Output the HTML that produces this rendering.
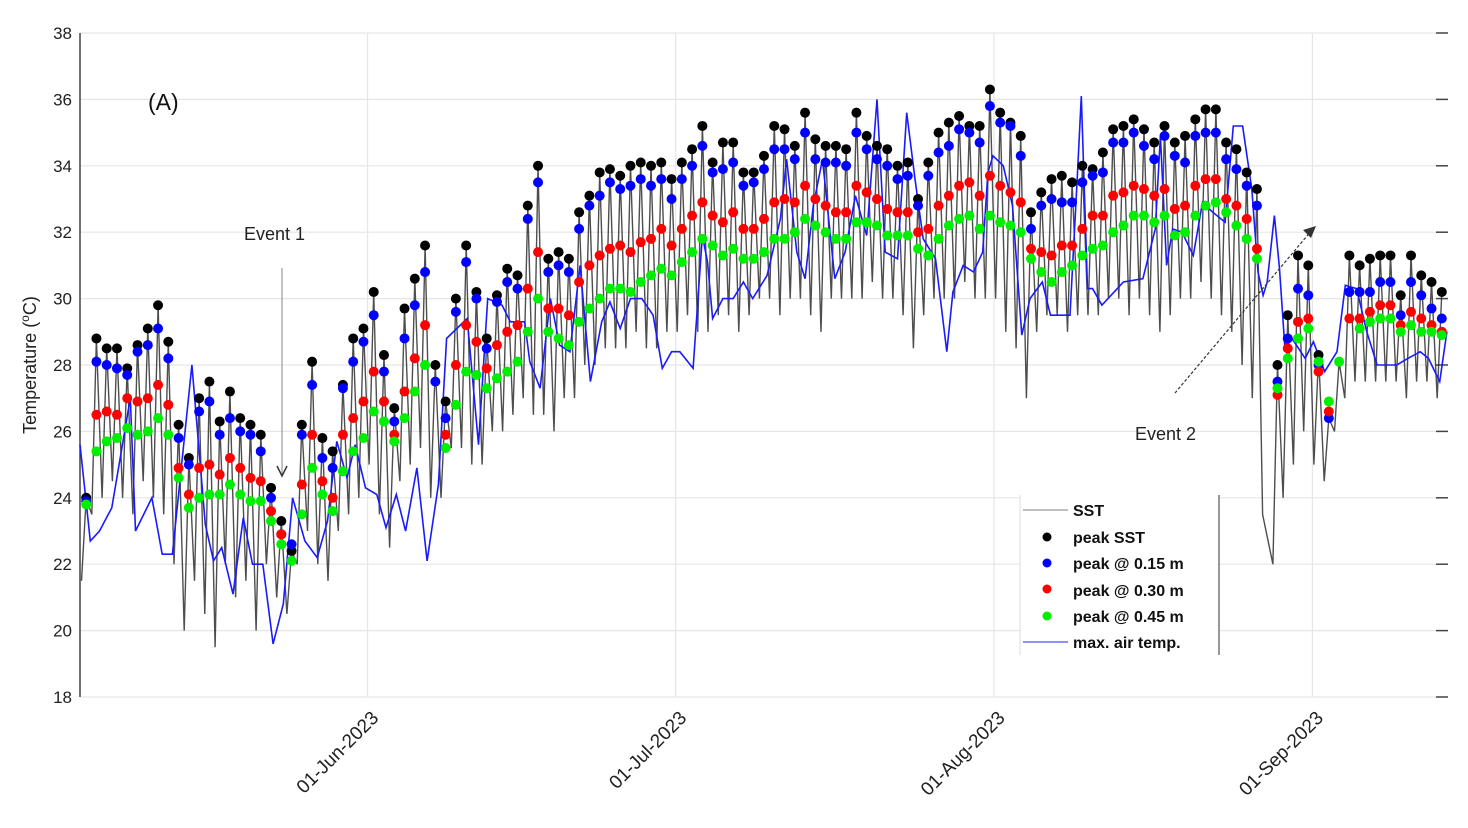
<!DOCTYPE html>
<html><head><meta charset="utf-8"><title>Temperature chart</title>
<style>
html,body{margin:0;padding:0;background:#fff;width:1468px;height:828px;overflow:hidden}
svg{display:block;font-family:"Liberation Sans",sans-serif}
</style></head>
<body>
<svg id="chart" width="1468" height="828" viewBox="0 0 1468 828" xmlns="http://www.w3.org/2000/svg">
<g id="grid"></g>
<g id="axes"></g>
<g id="sst"></g>
<g id="air"></g>
<g id="dots"></g>
<text x="148" y="110" font-size="23" fill="#111">(A)</text>
<text x="244" y="240" font-size="18" fill="#222">Event 1</text>
<line x1="282" y1="268" x2="282" y2="474" stroke="#999" stroke-width="1.2"/>
<path d="M277 466 L282 476 L287 466" fill="none" stroke="#333" stroke-width="1.5"/>
<text x="1135" y="440" font-size="18" fill="#222">Event 2</text>
<line x1="1175" y1="393" x2="1312" y2="230" stroke="#333" stroke-width="1.2" stroke-dasharray="3,2"/>
<path d="M1303 230 L1316 226 L1311 238 Z" fill="#333"/>
<g id="legend">
<rect x="1020" y="495" width="199" height="160" fill="#fff"/>
<line x1="1020" y1="495" x2="1020" y2="655" stroke="#ddd"/>
<line x1="1219" y1="495" x2="1219" y2="655" stroke="#777" stroke-width="1.5"/>
<g font-size="16" font-weight="bold" fill="#111">
<line x1="1023" y1="510" x2="1068" y2="510" stroke="#aaa" stroke-width="1.5"/>
<text x="1073" y="516">SST</text>
<circle cx="1047" cy="537" r="4.5" fill="#000"/>
<text x="1073" y="543">peak SST</text>
<circle cx="1047" cy="563" r="4.5" fill="#0000ff"/>
<text x="1073" y="569">peak @ 0.15 m</text>
<circle cx="1047" cy="589" r="4.5" fill="#ff0000"/>
<text x="1073" y="596">peak @ 0.30 m</text>
<circle cx="1047" cy="616" r="4.5" fill="#00ee00"/>
<text x="1073" y="622">peak @ 0.45 m</text>
<line x1="1023" y1="642" x2="1068" y2="642" stroke="#6b6bff" stroke-width="1.5"/>
<text x="1073" y="648">max. air temp.</text>
</g></g>
</svg>
<script>
const yTicks=[18,20,22,24,26,28,30,32,34,36,38];
const dateLabels=["01-Jun-2023","01-Jul-2023","01-Aug-2023","01-Sep-2023"];
const dateDays=[28,58,89,120];
const peakSST=[24.0,28.8,28.5,28.5,27.9,28.6,29.1,29.8,28.7,26.2,25.2,27.0,27.5,26.3,27.2,26.4,26.2,25.9,24.3,23.3,22.4,26.2,28.1,25.8,25.4,27.4,28.8,29.1,30.2,28.3,26.7,29.7,30.6,31.6,28.0,26.9,30.0,31.6,30.2,28.8,30.1,30.9,30.7,32.8,34.0,31.2,31.4,31.2,32.6,33.1,33.8,33.9,33.7,34.0,34.1,34.0,34.1,33.6,34.1,34.5,35.2,34.1,34.7,34.7,33.8,33.8,34.3,35.2,35.1,34.6,35.6,34.8,34.6,34.6,34.5,35.6,34.9,34.6,34.5,34.0,34.1,33.0,34.1,35.0,35.3,35.5,35.2,35.2,36.3,35.6,35.3,34.9,32.6,33.2,33.6,33.7,33.5,34.0,33.9,34.4,35.1,35.2,35.4,35.1,34.7,35.2,34.7,34.9,35.4,35.7,35.7,34.7,34.5,33.8,33.3,null,28.0,29.5,31.3,31.0,28.3,null,null,31.3,31.0,31.2,31.3,31.3,30.1,31.3,30.7,30.5,30.2];
const peak015=[23.9,28.1,28.0,27.9,27.7,28.4,28.6,29.1,28.2,25.8,25.0,26.6,26.9,25.9,26.4,26.0,25.9,25.4,24.0,22.9,22.6,25.9,27.4,25.2,24.9,27.3,28.1,28.7,29.5,27.8,26.3,28.8,29.8,30.8,27.5,26.4,29.6,31.1,30.0,28.5,29.9,30.5,30.3,32.4,33.5,30.8,31.0,30.8,32.1,32.8,33.1,33.5,33.3,33.4,33.6,33.4,33.6,33.0,33.6,34.0,34.6,33.8,33.9,34.1,33.4,33.5,33.9,34.5,34.5,34.2,35.0,34.2,34.1,34.1,34.0,35.0,34.5,34.2,34.0,33.6,33.7,32.8,33.7,34.4,34.6,35.1,35.0,34.7,35.8,35.3,35.2,34.3,32.1,32.8,33.0,32.9,32.9,33.5,33.7,33.8,34.7,34.7,35.0,34.6,34.2,34.9,34.3,34.1,34.9,35.0,35.0,34.2,33.9,33.4,32.8,null,27.5,28.8,30.3,30.1,28.0,26.4,null,30.2,30.2,30.2,30.5,30.5,29.5,30.5,30.1,29.7,29.4];
const peak030=[null,26.5,26.6,26.5,27.0,26.9,27.0,27.4,26.8,24.9,24.1,24.9,25.0,24.7,25.2,24.9,24.6,24.5,23.6,22.9,null,24.4,25.9,24.5,24.0,25.9,26.4,26.9,27.8,26.9,25.9,27.2,28.2,29.2,null,25.9,28.0,29.2,28.7,27.9,28.6,29.0,29.2,30.3,31.4,29.7,29.7,29.5,30.5,31.0,31.3,31.5,31.6,31.4,31.7,31.8,32.1,31.6,32.1,32.5,32.9,32.5,32.3,32.6,32.1,32.1,32.4,32.9,33.0,32.9,33.4,33.0,32.8,32.6,32.6,33.4,33.2,33.0,32.7,32.6,32.6,32.0,32.1,32.8,33.1,33.4,33.5,33.1,33.7,33.4,33.2,32.9,31.5,31.4,31.3,31.6,31.6,32.1,32.5,32.5,33.1,33.2,33.4,33.3,33.1,33.3,32.7,32.8,33.4,33.6,33.6,33.0,32.8,32.4,31.5,null,27.1,28.5,29.3,29.4,27.8,26.6,null,29.4,29.4,29.6,29.8,29.8,29.2,29.6,29.4,29.2,29.0];
const peak045=[23.8,25.4,25.7,25.8,26.1,25.9,26.0,26.4,25.9,24.6,23.7,24.0,24.1,24.1,24.4,24.1,23.9,23.9,23.3,22.6,22.1,23.5,24.9,24.1,23.6,24.8,25.4,25.8,26.6,26.3,25.7,26.4,27.2,28.0,null,25.5,26.8,27.8,27.7,27.3,27.6,27.8,28.1,29.0,30.0,29.0,28.8,28.6,29.3,29.7,30.0,30.3,30.3,30.2,30.5,30.7,30.9,30.7,31.1,31.4,31.8,31.6,31.3,31.5,31.2,31.2,31.4,31.8,31.8,32.0,32.4,32.2,32.0,31.8,31.8,32.3,32.3,32.2,31.9,31.9,31.9,31.5,31.3,31.8,32.2,32.4,32.5,32.1,32.5,32.3,32.2,32.0,31.2,30.8,30.5,30.8,31.0,31.3,31.5,31.6,32.0,32.2,32.5,32.5,32.3,32.5,31.9,32.0,32.5,32.8,32.9,32.6,32.2,31.8,31.2,null,27.3,28.2,28.8,29.1,28.1,26.9,28.1,null,29.1,29.3,29.4,29.4,29.0,29.2,29.0,29.0,28.9];
const minSST=[21.5,23.5,24,24.5,24,23.5,24.5,24,23.5,22,20,21.5,20.5,19.5,22,21,21.5,20,22,21,20.5,22,23,22,21.5,23,23.5,24,25,23.5,22.5,24.5,25,25.5,24,24,25.5,25.5,25,25,26,26,26.5,27,26.5,26.5,26,27,27,28,28,28.5,28.5,28.5,29,28.5,28.5,29,29,29.5,29,29,29.5,29.5,29,29.5,30,30,29.5,30,30,29.5,29,30,30,30,30,30.5,30,30,29.5,28.5,29.5,30,30,30,30.5,30,30,30,29,28.5,27,29,29.5,29.5,29,29.5,29.5,29.5,30,30,29.5,30,29.5,29,29.5,30,30,30.5,30,29.5,29,28,27,23.5,22,24,25,26,25,24.5,26,27,27.5,27.5,27.5,27.5,27.5,27,27.5,27.5,27];
const airDays=[0,1.0,1.9,3.1,4.9,5.4,7.0,8.0,9.0,10.9,12.2,13.0,13.8,14.9,15.9,16.8,17.8,18.8,19.8,20.7,21.9,23.1,24.1,25.0,26.0,26.8,27.8,28.9,29.8,30.8,31.7,32.8,33.8,34.9,35.7,37.7,38.8,39.7,41.1,41.9,43.3,43.8,44.8,45.8,46.7,47.7,48.7,49.7,50.8,51.6,52.6,53.6,54.7,55.8,56.7,57.6,58.4,59.7,60.6,61.1,61.6,62.6,63.6,64.6,65.5,66.9,68.2,68.8,69.8,70.6,71.4,72.3,73.5,74.5,75.5,76.6,77.6,78.4,79.6,80.5,81.3,82.1,83.3,84.4,85.0,86.0,87.0,87.9,88.4,88.9,89.9,90.8,91.7,92.5,93.7,94.5,96.4,97.1,97.5,98.1,98.6,99.5,101.6,103.5,104.7,105.2,105.8,106.4,107.3,108.4,109.3,110.3,111.5,112.3,113.2,114.1,114.7,115.2,115.6,116.3,116.8,117.3,118.0,119.3,120.1,121.2,122.4,123.2,124.3,125.3,126.3,128.2,129.3,130.5,131.3,132.4,133.1];
const airVals=[25.6,22.7,23.0,23.7,27.0,23.0,24.0,22.3,22.3,28.0,23.2,22.1,22.5,21.1,23.4,22.0,22.0,19.6,20.8,24.0,22.7,22.2,23.3,25.7,24.6,25.6,24.3,24.1,23.1,24.1,23.0,24.9,22.1,24.4,28.8,29.4,25.6,30.0,29.8,29.3,29.3,28.1,27.3,30.0,28.6,28.4,31.0,27.5,29.3,29.9,29.1,30.0,30.0,29.5,27.9,28.4,28.4,27.9,31.9,31.1,29.4,30.0,30.0,30.5,30.0,30.7,32.4,34.2,31.4,30.6,32.8,34.2,30.6,31.4,33.1,31.9,36.0,31.4,31.2,35.6,33.6,31.8,31.2,28.4,30.2,31.0,30.8,31.4,33.8,34.3,34.0,32.8,28.9,30.0,30.5,29.5,29.5,33.6,36.1,30.3,30.3,29.8,30.5,30.6,32.1,34.9,31.0,32.1,32.0,31.3,32.9,32.6,32.3,35.2,35.2,33.3,30.8,30.1,30.5,32.5,30.9,28.6,28.8,28.2,28.7,27.8,28.4,30.4,30.3,29.0,28.0,28.0,28.2,28.4,28.2,27.5,29.0];

const NS="http://www.w3.org/2000/svg";
const X0=80,DAYPX=10.27,YTOP=33,YBOT=697,YMIN=18,YMAX=38;
function xs(d){return X0+d*DAYPX;}
function ys(v){return YBOT-(v-YMIN)/(YMAX-YMIN)*(YBOT-YTOP);}
function mk(tag,attrs,parent){const e=document.createElementNS(NS,tag);for(const k in attrs)e.setAttribute(k,attrs[k]);parent.appendChild(e);return e;}
const grid=document.getElementById('grid'),axes=document.getElementById('axes');
yTicks.forEach(t=>{
  const g=mk('line',{x1:X0,x2:1448,y1:ys(t),y2:ys(t),stroke:'#e6e6e6','stroke-width':1.2},grid);
  
  
  const tk=mk('line',{x1:1436,x2:1448,y1:ys(t),y2:ys(t),stroke:'#444','stroke-width':1.5},axes);
  
  
  const tx=mk('text',{x:72,y:ys(t)+6,'text-anchor':'end','font-size':17,fill:'#222'},axes);
  tx.textContent=t;
  
  
});
dateDays.forEach((d,i)=>{
  const g=mk('line',{x1:xs(d),x2:xs(d),y1:YTOP,y2:YBOT,stroke:'#e6e6e6','stroke-width':1.2},grid);
  
  
  const tx=mk('text',{x:xs(d)+12,y:YBOT+22,'text-anchor':'end','font-size':19,fill:'#222',transform:`rotate(-45 ${xs(d)+12} ${YBOT+22})`},axes);
  tx.textContent=dateLabels[i];
  
  
});
const ax=mk('line',{x1:X0,x2:X0,y1:YTOP,y2:YBOT,stroke:'#444','stroke-width':1.5},axes);


const yl=mk('text',{x:36,y:365,'text-anchor':'middle','font-size':18,fill:'#222',transform:'rotate(-90 36 365)'},axes);
yl.innerHTML='Temperature (<tspan dy="-7" font-size="12">o</tspan><tspan dy="7">C)</tspan>';



let p='';
for(let k=0;k<minSST.length;k++){
  p+=(k?'L':'M')+xs(k+0.15).toFixed(1)+' '+ys(minSST[k]).toFixed(1);
  const pk=peakSST[k]!=null?peakSST[k]:(peak015[k]!=null?peak015[k]:peak045[k]);
  if(pk!=null)p+='L'+xs(k+0.6).toFixed(1)+' '+ys(pk).toFixed(1);
}
const sl=mk('path',{d:p,fill:'none',stroke:'#222','stroke-width':1.4,'stroke-opacity':0.8},document.getElementById('sst'));



let a='';
airDays.forEach((d,i)=>{a+=(i?'L':'M')+xs(d).toFixed(1)+' '+ys(airVals[i]).toFixed(1);});
const al=mk('path',{d:a,fill:'none',stroke:'#1a1aff','stroke-width':1.6},document.getElementById('air'));



const dots=document.getElementById('dots');
[[peakSST,'#000','peak-sst-dot'],[peak015,'#0000ff','peak-015-dot'],[peak030,'#ff0000','peak-030-dot'],[peak045,'#00ee00','peak-045-dot']].forEach(s=>{
  s[0].forEach((v,k)=>{
    if(v==null)return;
    const c=mk('circle',{cx:xs(k+0.6),cy:ys(v),r:5,fill:s[1]},dots);
    
    
  });
});
</script>
</body></html>
